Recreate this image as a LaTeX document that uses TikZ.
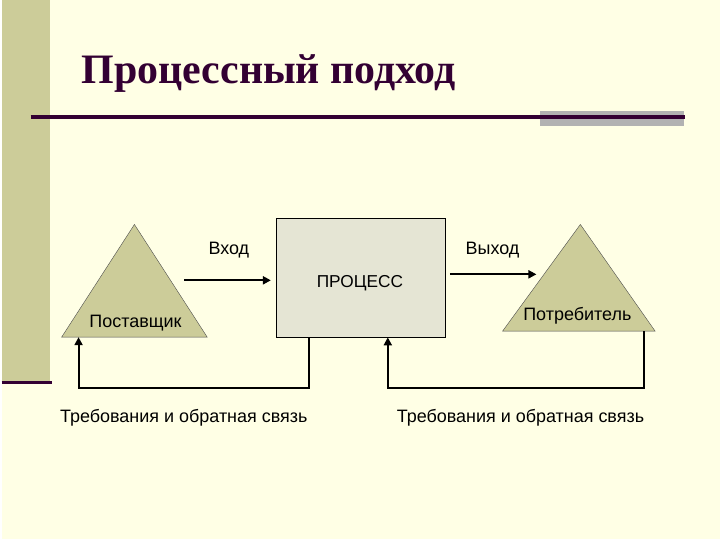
\documentclass[tikz,border=0pt]{standalone}
\usepackage{fontspec}
\setmainfont{Liberation Serif}
\setsansfont{Liberation Sans}
\usepackage{tikz}
\usetikzlibrary{
    positioning,
    arrows.meta,
    calc
}
\definecolor{slideBg}{RGB}{255, 255, 229}
\definecolor{slideOlive}{RGB}{204, 204, 153}
\definecolor{slidePurple}{RGB}{51, 0, 51}
\definecolor{slideGray}{RGB}{178, 178, 178}
\definecolor{procFill}{RGB}{229, 229, 212}

\begin{document}
\begin{tikzpicture}[x=1pt, y=-1pt, >={Triangle[length=8pt, width=8pt]},
        lbl/.style={font=\sffamily\fontsize{18}{18}\selectfont, inner sep=0pt, anchor=base},
        flow/.style={line width=2pt}]
        % Slide
        \fill[slideBg] (0,0) rectangle (720,540);
        \fill[slideOlive] (0,0) rectangle (48,383);
        \draw[line width=3.5pt, slidePurple] (0,383.5) -- (50,383.5);
        \fill[slideGray] (540,111) rectangle (684,126);
        \draw[line width=3.5pt, slidePurple] (29,117.5) -- (685,117.5);
        \node[slidePurple, anchor=base west, inner sep=0pt, font=\bfseries\fontsize{42}{42}\selectfont] (title) at (80,84) {Процессный подход};

        % Process
        \node[draw, thin, fill=procFill, minimum width=170pt, minimum height=119pt, inner sep=0pt] (proc) at (360,278.5) {};
        \node[lbl, font=\sffamily\fontsize{17.3}{17.3}\selectfont] (procText) at (359,287.7) {ПРОЦЕСС};

        % Triangles
        \coordinate (supTop) at (133,225);
        \coordinate (supBL) at (60,338);
        \coordinate (supBR) at (206,338);
        \filldraw[fill=slideOlive, draw=black!70, thin] (supTop) -- (supBR) -- (supBL) -- cycle;
        \node[lbl] (supText) at (134,328.3) {Поставщик};

        \coordinate (cusTop) at (580,225);
        \coordinate (cusBL) at (502,332);
        \coordinate (cusBR) at (655,332);
        \filldraw[fill=slideOlive, draw=black!70, thin] (cusTop) -- (cusBR) -- (cusBL) -- cycle;
        \node[lbl] (cusText) at (577,321.7) {Потребитель};

        % Input / output
        \coordinate (inL) at (183,281);
        \draw[->, flow, shorten >=5pt] (inL) -- (inL -| proc.west);
        \node[lbl] (inText) at (227.7,255) {Вход};

        \coordinate (outR) at (536,275);
        \draw[->, flow, shorten <=4pt] (outR -| proc.east) -- (outR);
        \node[lbl] (outText) at (492,255) {Выход};

        % Feedback
        \coordinate (fbL) at (308,389);
        \coordinate (fbLend) at (77,389);
        \draw[->, flow] (fbL |- proc.south) -- (fbL) -- (fbLend) -- (fbLend |- supBL);
        \node[lbl] (fbLText) at (182.5,423.3) {Требования и обратная связь};

        \coordinate (fbR) at (644,389);
        \coordinate (fbRend) at (387,389);
        \draw[->, flow] (fbR |- cusBL) -- (fbR) -- (fbRend) -- (fbRend |- proc.south);
        \node[lbl] (fbRText) at (520,423.3) {Требования и обратная связь};
    \end{tikzpicture}
\end{document}
